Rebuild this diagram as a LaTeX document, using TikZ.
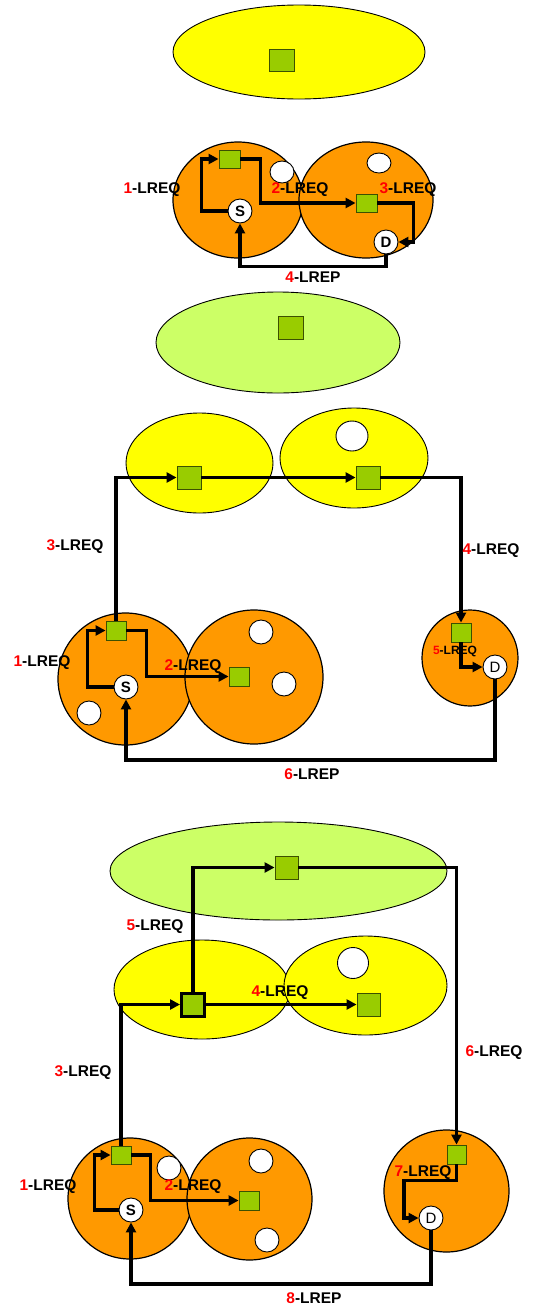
\documentclass[tikz,border=0pt]{standalone}
\usepackage{fontspec}
\setmainfont{Liberation Sans}
\usetikzlibrary{shapes.geometric,arrows.meta}
\definecolor{cyel}{RGB}{255,255,0}
\definecolor{corg}{RGB}{255,153,0}
\definecolor{cgrn}{RGB}{153,204,0}
\definecolor{clgr}{RGB}{204,255,102}
\definecolor{csqb}{RGB}{60,80,0}
\tikzset{
  ell/.style={ellipse,draw=black,line width=0.9pt,inner sep=0pt},
  yel/.style={ell,fill=cyel},
  lgr/.style={ell,fill=clgr},
  org/.style={ell,fill=corg,line width=1.2pt},
  hole/.style={ellipse,draw=black,fill=white,line width=0.9pt,inner sep=0pt},
  sq/.style={rectangle,draw=csqb,fill=cgrn,line width=0.9pt,inner sep=0pt},
  sdnode/.style={circle,draw=black,fill=white,line width=0.9pt,inner sep=0pt,minimum size=24pt},
  sbold/.style={sdnode,font=\bfseries\fontsize{15}{15}\selectfont},
  sreg/.style={sdnode,font=\fontsize{15}{15}\selectfont},
  arr/.style={line width=3.5pt,-{Triangle[length=10pt,width=10pt]}},
  lab/.style={font=\bfseries\fontsize{15.5}{16}\selectfont,inner sep=0pt},
  slab/.style={font=\bfseries\fontsize{12}{12}\selectfont,inner sep=0pt}
}
\newcommand{\rn}[1]{\textcolor{red}{#1}}
\begin{document}
\begin{tikzpicture}[x=1pt,y=-1pt]
\useasboundingbox (0,0) rectangle (533,1304);
% ---------- Section 1 ----------
\node[yel,minimum width=252pt,minimum height=94pt] (e1) at (299,52) {};
\node[sq,minimum width=25pt,minimum height=22pt] (q1) at (281.5,60) {};
% ---------- Section 2 ----------
\node[org,minimum width=130pt,minimum height=116pt] (c2L) at (238,200) {};
\node[org,minimum width=134pt,minimum height=116pt] (c2R) at (366,200) {};
\node[hole,minimum width=24pt,minimum height=22pt] (w21) at (282,172) {};
\node[hole,minimum width=24pt,minimum height=20pt] (w22) at (379,163) {};
\node[sq,minimum width=21pt,minimum height=18pt] (q2a) at (229.5,159) {};
\node[sq,minimum width=21pt,minimum height=18pt] (q2b) at (366.5,203) {};
\node[sbold] (S2) at (240,211) {S};
\node[sbold] (D2) at (386,242) {D};
\draw[arr] (S2.west) -- ++(-26,0) |- (q2a.west);
\draw[arr] (q2a.east) -- ++(20,0) |- (q2b.west);
\draw[arr] (q2b.east) -- ++(36,0) |- (D2.east);
\draw[arr] (D2.south) -- ++(0,12) -| (S2.south);
\node[lab] (l21) at (152,190) {\rn{1}-LREQ};
\node[lab] (l22) at (300,190) {\rn{2}-LREQ};
\node[lab] (l23) at (408,190) {\rn{3}-LREQ};
\node[lab] (l24) at (313,277) {\rn{4}-LREP};
% ---------- Section 3 ----------
\node[lgr,minimum width=244pt,minimum height=101pt] (e3) at (278,342.5) {};
\node[sq,minimum width=25pt,minimum height=23pt] (q3) at (290.5,327.5) {};
% ---------- Section 4 ----------
\node[yel,minimum width=147pt,minimum height=100pt] (y4L) at (199.5,463) {};
\node[yel,minimum width=148pt,minimum height=100pt] (y4R) at (354,458) {};
\node[hole,minimum width=32pt,minimum height=30pt] (w4) at (352,436) {};
\node[sq,minimum width=24pt,minimum height=23pt] (qA) at (189,477.5) {};
\node[sq,minimum width=24pt,minimum height=23pt] (qB) at (368,477.5) {};
\node[org,minimum width=135pt,minimum height=132pt] (o4L) at (125.5,679) {};
\node[org,minimum width=138pt,minimum height=134pt] (o4M) at (254,677) {};
\node[org,minimum width=96pt,minimum height=96pt] (o4R) at (470,658) {};
\node[hole,minimum width=24pt,minimum height=24pt] (w41) at (89,713) {};
\node[hole,minimum width=24pt,minimum height=24pt] (w42) at (261,632) {};
\node[hole,minimum width=24pt,minimum height=24pt] (w43) at (284,684) {};
\node[sq,minimum width=20pt,minimum height=19pt] (qL) at (116,630.5) {};
\node[sq,minimum width=20pt,minimum height=19pt] (qM) at (239,676.5) {};
\node[sq,minimum width=20pt,minimum height=19pt] (qR) at (461,632.5) {};
\node[sbold] (S4) at (126,687) {S};
\node[sreg] (D4) at (495,667) {D};
\draw[arr] (qL.north) |- (qA.west);
\draw[arr] (qA.east) -- (qB.west);
\draw[arr] (qB.east) -| (qR.north);
\draw[arr] (S4.west) -- ++(-26,0) |- (qL.west);
\draw[arr] (qL.east) -- ++(20,0) |- (qM.west);
\draw[arr] (qR.south) |- (D4.west);
\draw[arr] (D4.south) -- ++(0,80.5) -| (S4.south);
\node[lab] (l43) at (75,547) {\rn{3}-LREQ};
\node[lab] (l44) at (491,551) {\rn{4}-LREQ};
\node[lab] (l41) at (42,663) {\rn{1}-LREQ};
\node[lab] (l42) at (193,667) {\rn{2}-LREQ};
\node[slab] (l45) at (455,651) {\rn{5}-LREQ};
\node[lab] (l46) at (312,774) {\rn{6}-LREP};
% ---------- Section 5 ----------
\node[lgr,minimum width=337pt,minimum height=98pt] (g5) at (278.5,871) {};
\node[sq,minimum width=23pt,minimum height=23pt] (q5t) at (286.5,867.5) {};
\node[yel,minimum width=176pt,minimum height=99pt] (y5L) at (202,989.5) {};
\node[yel,minimum width=163pt,minimum height=99pt] (y5R) at (365.5,985.5) {};
\node[hole,minimum width=31pt,minimum height=31pt] (w5) at (353,963) {};
\node[sq,draw=black,line width=3pt,minimum width=23pt,minimum height=23pt] (qBold) at (193,1004.5) {};
\node[sq,minimum width=23pt,minimum height=23pt] (q5r) at (368.5,1004.5) {};
\node[org,minimum width=124pt,minimum height=121pt] (o5L) at (130,1198.5) {};
\node[org,minimum width=125pt,minimum height=122pt] (o5M) at (249.5,1199) {};
\node[org,minimum width=125pt,minimum height=122pt] (o5R) at (446.5,1191) {};
\node[hole,minimum width=24pt,minimum height=24pt] (w51) at (169,1168) {};
\node[hole,minimum width=24pt,minimum height=24pt] (w52) at (261,1161) {};
\node[hole,minimum width=24pt,minimum height=24pt] (w53) at (267,1240) {};
\node[sq,minimum width=20pt,minimum height=18pt] (q5L) at (121,1155) {};
\node[sq,minimum width=20pt,minimum height=19pt] (q5M) at (249,1200.5) {};
\node[sq,minimum width=19pt,minimum height=19pt] (q5R) at (456.5,1154.5) {};
\node[sbold] (S5) at (131,1210) {S};
\node[sreg] (D5) at (431,1218) {D};
\draw[arr] (q5L.north) |- (qBold.west);
\draw[arr] (qBold.east) -- (q5r.west);
\draw[arr] (qBold.north) |- (q5t.west);
\draw[arr] (q5t.east) -| (q5R.north);
\draw[arr] (S5.west) -- ++(-24,0) |- (q5L.west);
\draw[arr] (q5L.east) -- ++(19,0) |- (q5M.west);
\draw[arr] (q5R.south) -- ++(0,16) -- ++(-52.5,0) |- (D5.west);
\draw[arr] (D5.south) -- ++(0,53.5) -| (S5.south);
\node[lab] (l55) at (155,927) {\rn{5}-LREQ};
\node[lab] (l54) at (280,993) {\rn{4}-LREQ};
\node[lab] (l56) at (494,1053) {\rn{6}-LREQ};
\node[lab] (l53) at (83,1073) {\rn{3}-LREQ};
\node[lab] (l51) at (48,1187) {\rn{1}-LREQ};
\node[lab] (l52) at (193,1187) {\rn{2}-LREQ};
\node[lab] (l57) at (423,1173) {\rn{7}-LREQ};
\node[lab] (l58) at (314,1298) {\rn{8}-LREP};
\end{tikzpicture}
\end{document}
